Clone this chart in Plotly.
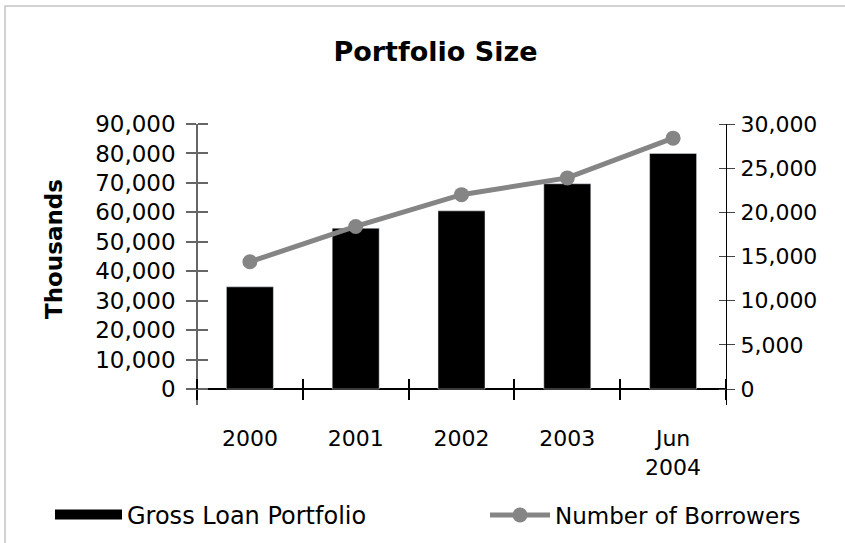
import plotly.graph_objects as go

# ---- data ----
categories = ["2000", "2001", "2002", "2003", "Jun<br>2004"]
gross_loan_portfolio = [34700, 54600, 60500, 69700, 80000]   # thousands (left axis)
number_of_borrowers = [14400, 18400, 22000, 23900, 28400]    # right axis
left_ticks = [0, 10000, 20000, 30000, 40000, 50000, 60000, 70000, 80000, 90000]
right_ticks = [0, 5000, 10000, 15000, 20000, 25000, 30000]

FONT = "DejaVu Sans"
W, H = 845, 543
L, R, T, B = 197, 119, 124, 138
plot_w = W - L - R
plot_h = H - T - B
below = 16  # axis lines extend below the zero line
y_max = 90000
y_min = -y_max * below / (plot_h - below)
y2_max = 30000
y2_min = -y2_max * below / (plot_h - below)
zero_pos = below / plot_h

fig = go.Figure()

# legend stand-in for the bars (wide black swatch)
fig.add_trace(go.Scatter(x=[None], y=[None], mode="lines",
                         line=dict(color="black", width=14),
                         name="Gross Loan Portfolio", legend="legend"))

fig.add_trace(go.Bar(x=categories, y=gross_loan_portfolio, marker_color="black",
                     name="Gross Loan Portfolio", showlegend=False,
                     xaxis="x", yaxis="y"))

fig.add_trace(go.Scatter(x=categories, y=number_of_borrowers, mode="lines+markers",
                         line=dict(color="#858585", width=5),
                         marker=dict(color="#858585", size=15),
                         name="Number of Borrowers", legend="legend2",
                         xaxis="x", yaxis="y2"))

# invisible copies so the mirror axes (tick marks on the other side) get drawn
for xa, ya, vals in [("x2", "y", gross_loan_portfolio),
                     ("x", "y3", gross_loan_portfolio),
                     ("x", "y4", number_of_borrowers)]:
    fig.add_trace(go.Scatter(x=categories, y=vals, mode="markers",
                             marker=dict(opacity=0), showlegend=False, hoverinfo="skip",
                             xaxis=xa, yaxis=ya))

tick_font = dict(family=FONT, size=22, color="black")

fig.update_layout(
    width=W, height=H,
    margin=dict(l=L, r=R, t=T, b=B, autoexpand=False),
    paper_bgcolor="white", plot_bgcolor="white",
    font=dict(family=FONT, color="black"),
    bargap=0.556,
    showlegend=True,
    title=dict(text="<b>Portfolio Size</b>", font=dict(family=FONT, size=27, color="black"),
               x=435.5 / W, xref="container", xanchor="center",
               y=1 - 52 / H, yref="container", yanchor="middle"),
    xaxis=dict(type="category", range=[-0.5, 4.5], domain=[0, 1],
               anchor="free", position=zero_pos, side="bottom",
               showline=False, showgrid=False, zeroline=False,
               ticks="outside", ticklen=10, tickwidth=2, tickcolor="black",
               tickson="boundaries", tickfont=tick_font, ticklabelstandoff=34),
    xaxis2=dict(type="category", overlaying="x", range=[-0.5, 4.5],
                categoryorder="array", categoryarray=categories,
                anchor="free", position=zero_pos, side="top",
                showline=False, showgrid=False, zeroline=False,
                ticks="outside", ticklen=10, tickwidth=2, tickcolor="black",
                tickson="boundaries", showticklabels=False),
    yaxis=dict(range=[y_min, y_max], tickvals=left_ticks, tickformat=",",
               anchor="free", position=0, side="left",
               showline=True, linecolor="#666666", linewidth=1.5,
               ticks="outside", ticklen=10, tickwidth=1.5, tickcolor="#666666",
               showgrid=False, zeroline=True, zerolinecolor="black", zerolinewidth=1.5,
               tickfont=dict(family=FONT, size=23, color="black"), ticklabelstandoff=6),
    yaxis3=dict(range=[y_min, y_max], tickvals=left_ticks, overlaying="y",
                anchor="free", position=0, side="right",
                showline=False, showgrid=False, zeroline=False,
                ticks="outside", ticklen=10, tickwidth=1.5, tickcolor="#666666",
                showticklabels=False),
    yaxis2=dict(range=[y2_min, y2_max], tickvals=right_ticks, tickformat=",",
                overlaying="y", anchor="free", position=1, side="right",
                showline=True, linecolor="black", linewidth=1,
                ticks="outside", ticklen=8, tickwidth=1, tickcolor="#444444",
                showgrid=False, zeroline=False,
                tickfont=tick_font, ticklabelstandoff=1),
    yaxis4=dict(range=[y2_min, y2_max], tickvals=right_ticks, overlaying="y",
                anchor="free", position=1, side="left",
                showline=False, showgrid=False, zeroline=False,
                ticks="outside", ticklen=7, tickwidth=1, tickcolor="#444444",
                showticklabels=False),
    legend=dict(orientation="h", xref="container", yref="container",
                x=50 / W, xanchor="left", y=1 - 515 / H, yanchor="middle",
                font=dict(family=FONT, size=24, color="black"),
                itemwidth=67, bgcolor="rgba(0,0,0,0)"),
    legend2=dict(orientation="h", xref="container", yref="container",
                 x=485 / W, xanchor="left", y=1 - 515 / H, yanchor="middle",
                 font=dict(family=FONT, size=23, color="black"),
                 itemwidth=60, bgcolor="rgba(0,0,0,0)"),
    annotations=[dict(text="<b>Thousands</b>", textangle=-90, showarrow=False,
                      font=dict(family=FONT, size=23, color="black"),
                      xref="paper", yref="paper",
                      x=(54 - L) / plot_w, y=(T + plot_h - 249) / plot_h,
                      xanchor="center", yanchor="middle")],
    shapes=[dict(type="rect", xref="paper", yref="paper", layer="below",
                 x0=(5 - L) / plot_w, x1=(870 - L) / plot_w,
                 y0=(T + plot_h - 570) / plot_h, y1=(T + plot_h - 6) / plot_h,
                 line=dict(color="#c4c4c4", width=1.5), fillcolor="rgba(0,0,0,0)")],
)

fig.write_html("out.html", config={"displayModeBar": False},
               post_script="document.body.style.margin='0';document.body.style.overflow='hidden';")
